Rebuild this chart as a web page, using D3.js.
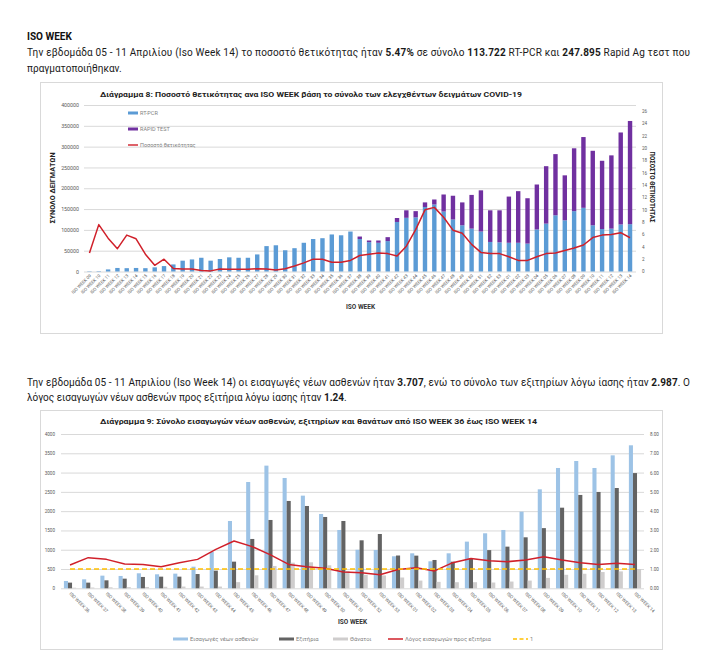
<!DOCTYPE html>
<html>
<head>
<meta charset="utf-8">
<script src="https://cdn.jsdelivr.net/npm/d3@7"></script>
<style>
  body { margin: 0; background: #fff; }
  text { font-family: Roboto, "Open Sans", sans-serif; }
</style>
</head>
<body>
<svg id="page"></svg>
<script>
// ---- Διάγραμμα 8 data (ISO WEEK 09/2020 .. 14/2021)
const weekNums8 = ['09','10','11','12','13','14','15','16','17','18','19','20','21','22','23','24','25','26','27','28',
  '29','30','31','32','33','34','35','36','37','38','39','40','41','42','43','44','45','46','47','48',
  '49','50','51','52','53','01','02','03','04','05','06','07','08','09','10','11','12','13','14'];
const pcr8 = [800,1000,5000,8500,8000,8500,8000,10000,13000,17000,26000,29000,33000,26000,30000,34000,33000,33000,41000,61000,
  63000,51000,56000,69000,78000,80000,89000,87000,96000,78000,70500,69000,73000,119000,129000,130000,155000,161000,144000,125000,
  111000,103000,96000,71000,70000,69000,69000,67000,101000,115000,135000,123000,145000,153000,111000,102000,103000,113000,113722];
const rapid8 = [0,0,0,0,0,0,0,0,0,0,0,0,0,0,0,0,0,0,0,0,
  0,0,0,0,0,0,0,0,0,6000,4000,5500,9500,9500,18000,15000,11000,12000,41000,57000,
  55000,81000,99000,76000,77000,111000,124000,109000,108000,138000,147000,108000,151000,170000,179000,164000,176000,221000,247895];
const positivity8 = [3.0,7.6,5.4,3.7,5.9,5.3,2.8,1.0,2.0,0.5,0.4,0.4,0.15,0.1,0.4,0.35,0.35,0.35,0.45,0.4,
  0.25,0.45,0.9,1.4,2.0,2.0,1.5,1.5,1.8,2.6,2.8,3.0,2.9,2.5,4.1,6.8,10.0,10.4,8.8,6.7,
  6.2,4.4,3.1,2.9,2.9,2.4,1.8,1.8,2.4,2.9,3.0,3.4,3.8,4.3,5.5,5.9,6.0,6.3,5.47];
const leftTicks8 = [0,50000,100000,150000,200000,250000,300000,350000,400000];
const rightTicks8 = [0,2,4,6,8,10,12,14,16,18,20,22,24,26];

// ---- Διάγραμμα 9 data (ISO WEEK 36/2020 .. 14/2021)
const weekNums9 = ['36','37','38','39','40','41','42','43','44','45','46','47','48','49','50','51',
  '52','53','01','02','03','04','05','06','07','08','09','10','11','12','13','14'];
const admissions9 = [190,233,328,320,389,363,380,560,942,1745,2756,3180,2860,2402,1927,1512,
  1000,994,830,907,700,907,1210,1426,1512,1987,2566,3119,3300,3119,3447,3707];
const discharges9 = [147,147,207,250,294,302,302,370,458,691,1279,1771,2264,2134,1849,1745,
  1244,1408,850,847,734,690,780,990,1080,1322,1560,2090,2420,2497,2600,2987];
const deaths9 = [15,20,25,30,35,40,45,45,45,160,337,579,665,674,596,450,
  350,333,280,200,167,158,158,150,175,200,270,350,377,421,438,500];
const ratio9 = [1.21,1.59,1.50,1.26,1.24,1.12,1.33,1.50,2.02,2.45,2.16,1.73,1.24,1.12,1.04,0.85,
  0.80,0.70,0.97,1.07,0.90,1.33,1.55,1.43,1.38,1.47,1.64,1.47,1.33,1.24,1.30,1.24];
const one9 = weekNums9.map(() => 1);
const leftTicks9 = [0,500,1000,1500,2000,2500,3000,3500,4000];
const rightTicks9 = [0,1,2,3,4,5,6,7,8];

const weeks8 = weekNums8.map((w, i) => i + ':' + w);
const weeks9 = weekNums9.map((w, i) => i + ':' + w);
const label = k => 'ISO WEEK ' + k.split(':')[1];

const svg = d3.select('#page')
  .attr('width', 723)
  .attr('height', 670);

// ---- page text
svg.append('text')
  .attr('x', 27).attr('y', 39.5)
  .attr('font-size', 10).attr('font-weight', 'bold').attr('fill', '#111')
  .text('ISO WEEK');

function para(y, parts, len) {
  const t = svg.append('text')
    .attr('x', 27).attr('y', y)
    .attr('font-size', 10).attr('fill', '#1a1a1a');
  if (len) t.attr('textLength', len).attr('lengthAdjust', 'spacing');
  parts.forEach(p => t.append('tspan').attr('font-weight', p[1] ? 'bold' : null).text(p[0]));
}

para(55.5, [['Την εβδομάδα 05 - 11 Απριλίου (Iso Week 14) το ποσοστό θετικότητας ήταν '], ['5.47%', 1],
  [' σε σύνολο '], ['113.722', 1], [' RT-PCR και '], ['247.895', 1], [' Rapid Ag τεστ που']], 663);
para(71.5, [['πραγματοποιήθηκαν.']]);
para(385.5, [['Την εβδομάδα 05 - 11 Απριλίου (Iso Week 14) οι εισαγωγές νέων ασθενών ήταν '], ['3.707', 1],
  [', ενώ το σύνολο των εξιτηρίων λόγω ίασης ήταν '], ['2.987', 1], ['.  Ο']], 663);
para(400.5, [['λόγος εισαγωγών νέων ασθενών προς εξιτήρια λόγω ίασης ήταν '], ['1.24', 1], ['.']]);

// chart frames
svg.append('rect').attr('x', 40.5).attr('y', 82.5).attr('width', 622).attr('height', 251)
  .attr('fill', 'none').attr('stroke', '#d9d9d9');
svg.append('rect').attr('x', 40.5).attr('y', 410.5).attr('width', 622).attr('height', 239)
  .attr('fill', 'none').attr('stroke', '#d9d9d9');

function styleAxis(g, size) {
  g.attr('font-family', null).attr('font-size', null);
  g.select('.domain').remove();
  g.selectAll('text').attr('font-size', size).attr('fill', '#595959');
  g.selectAll('line').attr('stroke', '#d9d9d9');
}

// =========================== Διάγραμμα 8
const x8 = d3.scalePoint().domain(weeks8).range([84.8, 634.7]).padding(0.5);
const y8 = d3.scaleLinear().domain([0, 400000]).range([271.5, 105]);
const p8 = d3.scaleLinear().domain([0, 27]).range([271.5, 105]);

svg.append('text')
  .attr('x', 100).attr('y', 96.5)
  .attr('font-size', 7.6).attr('font-weight', 'bold').attr('fill', '#222')
  .attr('textLength', 422).attr('lengthAdjust', 'spacingAndGlyphs')
  .text('Διάγραμμα 8: Ποσοστό  θετικότητας ανα ISO WEEK  βάση το σύνολο των ελεγχθέντων δειγμάτων COVID-19');

svg.append('g')
  .attr('transform', 'translate(84,0)')
  .call(d3.axisLeft(y8).tickValues(leftTicks8).tickSize(-552).tickPadding(5).tickFormat(d3.format('d')))
  .call(g => styleAxis(g, 5.3));

svg.append('g')
  .attr('transform', 'translate(636,0)')
  .call(d3.axisRight(p8).tickValues(rightTicks8).tickSize(0).tickPadding(6))
  .call(g => styleAxis(g, 4.6));

const rows8 = weeks8.map((w, i) => ({ week: w, pcr: pcr8[i], rapid: rapid8[i], pos: positivity8[i] }));
const stack8 = d3.stack().keys(['pcr', 'rapid'])(rows8);
const colors8 = { pcr: '#5b9bd5', rapid: '#7030a0' };

svg.append('g')
  .selectAll('g')
  .data(stack8)
  .join('g')
    .attr('fill', s => colors8[s.key])
  .selectAll('rect')
  .data(s => s)
  .join('rect')
    .attr('x', d => x8(d.data.week) - 2.2)
    .attr('width', 4.4)
    .attr('y', d => y8(d[1]))
    .attr('height', d => y8(d[0]) - y8(d[1]));

svg.append('path')
  .datum(rows8)
  .attr('fill', 'none')
  .attr('stroke', '#d0202a')
  .attr('stroke-width', 1.5)
  .attr('stroke-linejoin', 'round')
  .attr('d', d3.line().x(d => x8(d.week)).y(d => p8(d.pos)));

svg.append('g')
  .selectAll('text')
  .data(weeks8)
  .join('text')
    .attr('transform', d => 'translate(' + (x8(d) + 2) + ',276) rotate(-45)')
    .attr('text-anchor', 'end')
    .attr('font-size', 4.4)
    .attr('fill', '#595959')
    .text(label);

svg.append('text')
  .attr('transform', 'translate(55,188) rotate(-90)')
  .attr('text-anchor', 'middle')
  .attr('font-size', 7).attr('font-weight', 'bold').attr('fill', '#222')
  .attr('textLength', 71).attr('lengthAdjust', 'spacingAndGlyphs')
  .text('ΣΥΝΟΛΟ ΔΕΙΓΜΑΤΩΝ');

svg.append('text')
  .attr('transform', 'translate(650,187) rotate(90)')
  .attr('text-anchor', 'middle')
  .attr('font-size', 6.5).attr('font-weight', 'bold').attr('fill', '#222')
  .attr('textLength', 71).attr('lengthAdjust', 'spacingAndGlyphs')
  .text('ΠΟΣΟΣΤΟ ΘΕΤΙΚΟΤΗΤΑΣ');

svg.append('text')
  .attr('x', 360.5).attr('y', 308.5)
  .attr('text-anchor', 'middle')
  .attr('font-size', 6.5).attr('font-weight', 'bold').attr('fill', '#333')
  .text('ISO WEEK');

const legend8 = [
  { name: 'RT-PCR', color: colors8.pcr, type: 'bar' },
  { name: 'RAPID TEST', color: colors8.rapid, type: 'bar' },
  { name: 'Ποσοστό θετικότητας', color: '#d0202a', type: 'line' }
];
const lg8 = svg.append('g')
  .selectAll('g')
  .data(legend8)
  .join('g')
    .attr('transform', (d, i) => 'translate(128,' + (113 + i * 16) + ')');
lg8.append('rect')
  .attr('x', 0).attr('width', 10)
  .attr('y', d => d.type === 'bar' ? -1.5 : -0.7)
  .attr('height', d => d.type === 'bar' ? 3 : 1.4)
  .attr('fill', d => d.color);
lg8.append('text')
  .attr('x', 12).attr('y', 2)
  .attr('font-size', 5.5).attr('fill', '#7f7f7f')
  .text(d => d.name);

// =========================== Διάγραμμα 9
const x9 = d3.scaleBand().domain(weeks9).range([60.9, 644.1]).paddingInner(0.33).paddingOuter(0.165);
const sub9 = d3.scaleBand().domain(['adm', 'dis', 'death']).range([0, x9.bandwidth()]);
const y9 = d3.scaleLinear().domain([0, 4000]).range([588.3, 434]);
const r9 = d3.scaleLinear().domain([0, 8]).range([588.3, 434]);
const cx9 = w => x9(w) + x9.bandwidth() / 2;

svg.append('text')
  .attr('x', 100).attr('y', 424)
  .attr('font-size', 7.6).attr('font-weight', 'bold').attr('fill', '#222')
  .attr('textLength', 437).attr('lengthAdjust', 'spacingAndGlyphs')
  .text('Διάγραμμα 9: Σύνολο εισαγωγών νέων ασθενών, εξιτηρίων και θανάτων από ISO WEEK 36 έως ISO WEEK 14');

svg.append('g')
  .attr('transform', 'translate(61,0)')
  .call(d3.axisLeft(y9).tickValues(leftTicks9).tickSize(-583).tickPadding(6).tickFormat(d3.format('d')))
  .call(g => styleAxis(g, 4.6));

svg.append('g')
  .attr('transform', 'translate(644,0)')
  .call(d3.axisRight(r9).tickValues(rightTicks9).tickSize(0).tickPadding(6).tickFormat(d3.format('.2f')))
  .call(g => styleAxis(g, 4.6));

const rows9 = weeks9.map((w, i) => ({
  week: w, adm: admissions9[i], dis: discharges9[i], death: deaths9[i], ratio: ratio9[i], one: one9[i]
}));
const colors9 = { adm: '#9dc3e6', dis: '#636363', death: '#cfcdcd' };

svg.append('g')
  .selectAll('g')
  .data(rows9)
  .join('g')
    .attr('transform', d => 'translate(' + x9(d.week) + ',0)')
  .selectAll('rect')
  .data(d => ['adm', 'dis', 'death'].map(k => ({ key: k, value: d[k] })))
  .join('rect')
    .attr('x', d => sub9(d.key))
    .attr('width', sub9.bandwidth())
    .attr('y', d => y9(d.value))
    .attr('height', d => y9(0) - y9(d.value))
    .attr('fill', d => colors9[d.key]);

svg.append('path')
  .datum(rows9)
  .attr('fill', 'none')
  .attr('stroke', '#d0202a')
  .attr('stroke-width', 1.5)
  .attr('stroke-linejoin', 'round')
  .attr('d', d3.line().x(d => cx9(d.week)).y(d => r9(d.ratio)));

svg.append('path')
  .datum(rows9)
  .attr('fill', 'none')
  .attr('stroke', '#ffc000')
  .attr('stroke-width', 1.5)
  .attr('stroke-dasharray', '5,3')
  .attr('d', d3.line().x(d => cx9(d.week)).y(d => r9(d.one)));

svg.append('g')
  .selectAll('text')
  .data(weeks9)
  .join('text')
    .attr('transform', d => 'translate(' + (cx9(d) - 1) + ',594) rotate(45)')
    .attr('text-anchor', 'start')
    .attr('font-size', 4.6)
    .attr('fill', '#595959')
    .text(label);

svg.append('text')
  .attr('x', 352.5).attr('y', 623.5)
  .attr('text-anchor', 'middle')
  .attr('font-size', 6.5).attr('font-weight', 'bold').attr('fill', '#333')
  .text('ISO WEEK');

const legend9 = [
  { name: 'Εισαγωγές νέων ασθενών', color: colors9.adm, type: 'bar', x: 173 },
  { name: 'Εξιτήρια', color: colors9.dis, type: 'bar', x: 279 },
  { name: 'Θάνατοι', color: colors9.death, type: 'bar', x: 333 },
  { name: 'Λόγος εισαγωγών προς εξιτήρια', color: '#d0202a', type: 'line', x: 388 },
  { name: '1', color: '#ffc000', type: 'dash', x: 513 }
];
const lg9 = svg.append('g')
  .selectAll('g')
  .data(legend9)
  .join('g')
    .attr('transform', d => 'translate(' + d.x + ',639)');
lg9.filter(d => d.type === 'bar').append('rect')
  .attr('x', 0).attr('y', -1.5).attr('width', 15).attr('height', 3)
  .attr('fill', d => d.color);
lg9.filter(d => d.type !== 'bar').append('line')
  .attr('x1', 0).attr('x2', 15)
  .attr('stroke', d => d.color)
  .attr('stroke-width', 1.5)
  .attr('stroke-dasharray', d => d.type === 'dash' ? '4,2.5' : null);
lg9.append('text')
  .attr('x', 17).attr('y', 2)
  .attr('font-size', 5.8).attr('fill', '#7f7f7f')
  .text(d => d.name);
</script>
</body>
</html>
